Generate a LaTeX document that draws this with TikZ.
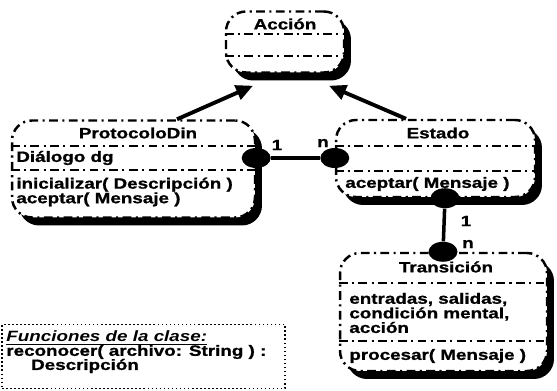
\documentclass[tikz,border=0pt]{standalone}
\usepackage{fontspec}
\setmainfont[FakeStretch=1.26, BoldFeatures={FakeBold=1}]{Liberation Sans}
\usetikzlibrary{arrows.meta, positioning, shapes.geometric, shadows}
\newcommand{\umlfont}{\fontsize{8.5}{8.3}\selectfont\bfseries}

\begin{document}
\begin{tikzpicture}[
    x=0.02cm, y=-0.02cm,
    classbox/.style={rectangle, rounded corners=0.4cm, draw=black, line width=1.4pt, dash pattern=on 5pt off 2.5pt on 1.2pt off 2.5pt, fill=white, drop shadow={shadow xshift=0.14cm, shadow yshift=-0.16cm, fill=black, opacity=1}},
    sep/.style={line width=1.4pt, dash pattern=on 5pt off 2.5pt on 1.2pt off 2.5pt},
    title/.style={font=\umlfont, inner sep=0pt},
    member/.style={font=\umlfont, anchor=west, align=left, inner sep=0pt},
    notebox/.style={rectangle, draw=black, line width=1.1pt, dash pattern=on 0.9pt off 1.4pt},
    blob/.style={ellipse, fill=black, minimum width=0.58cm, minimum height=0.4cm, inner sep=0pt},
    mult/.style={font=\umlfont, inner sep=0pt},
    inherit/.style={-{Triangle[length=0.34cm, width=0.3cm]}, line width=2.2pt},
    assoc/.style={line width=2pt}
]
\useasboundingbox (0,0) rectangle (557,391);

% class boxes
\node[classbox, minimum width=2.36cm, minimum height=1.22cm] (accion) at (285,42) {};
\node[classbox, minimum width=4.86cm, minimum height=1.94cm] (pd) at (133.5,169) {};
\node[classbox, minimum width=3.98cm, minimum height=1.54cm] (estado) at (435.5,158.5) {};
\node[classbox, minimum width=4.14cm, minimum height=2.36cm] (transicion) at (443.5,312) {};

% Accion
\node[title] (accionT) at (accion.north |- 0,24) {Acción};
\draw[sep] (accion.west |- 0,34) -- (accion.east |- 0,34);
\draw[sep] (accion.west |- 0,56) -- (accion.east |- 0,56);

% ProtocoloDin
\node[title] (pdT) at (138,133) {ProtocoloDin};
\draw[sep] (pd.west |- 0,146) -- (pd.east |- 0,146);
\draw[sep] (pd.west |- 0,170) -- (pd.east |- 0,170);
\node[member] (pdAttr) at (16,158) {Diálogo dg};
\node[member] (pdOps) at (16,192) {inicializar( Descripción )\\aceptar( Mensaje )};

% Estado
\node[title] (estadoT) at (438,133) {Estado};
\draw[sep] (estado.west |- 0,146) -- (estado.east |- 0,146);
\draw[sep] (estado.west |- 0,171) -- (estado.east |- 0,171);
\node[member] (estadoOps) at (345,184) {aceptar( Mensaje )};

% Transicion
\node[title] (transT) at (446,267) {Transición};
\draw[sep] (transicion.west |- 0,283) -- (transicion.east |- 0,283);
\draw[sep] (transicion.west |- 0,341) -- (transicion.east |- 0,341);
\node[member] (transAttr) at (349,313) {entradas, salidas,\\condición mental,\\acción};
\node[member] (transOps) at (349,356) {procesar( Mensaje )};

% nota
\node[notebox, minimum width=5.66cm, minimum height=1.28cm] (nota) at (143.5,356.5) {};
\node[member] (notaT) at (6,338) {\underline{\itshape Funciones de la clase:}};
\node[member] (notaF) at (6,352) {reconocer( archivo: String ) :};
\node[title] (notaR) at (85,366) {Descripción};

% herencia
\draw[inherit] ([xshift=0.87cm]pd.north) -- ([xshift=-0.64cm, yshift=-0.24cm]accion.south);
\draw[inherit] ([xshift=-0.59cm]estado.north) -- ([xshift=0.88cm, yshift=-0.24cm]accion.south);

% asociaciones
\node[blob] (pdR) at (pd.east |- 0,158) {};
\node[blob] (estadoL) at (estado.west |- 0,158) {};
\node[blob] (estadoB) at (estado.south -| 445,0) {};
\node[blob] (transN) at (transicion.north -| 443,0) {};
\draw[assoc] (pdR) -- (estadoL);
\draw[assoc] (estadoB) -- (transN);
\node[mult] (m1) at (277,145) {1};
\node[mult] (m2) at (323,143) {n};
\node[mult] (m3) at (466,221) {1};
\node[mult] (m4) at (468,244) {n};
\end{tikzpicture}
\end{document}
